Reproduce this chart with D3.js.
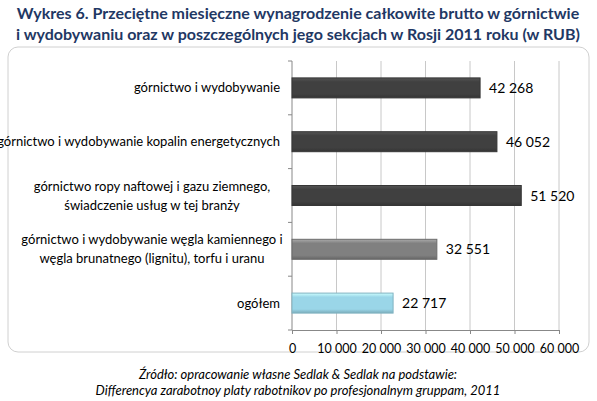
<!DOCTYPE html>
<html><head><meta charset="utf-8">
<script src="https://cdn.jsdelivr.net/npm/d3@7"></script>
<style>body{margin:0;background:#fff}</style></head>
<body><svg id="c" width="597" height="401"></svg>
<script>
const categories = [
  ["górnictwo i wydobywanie"],
  ["górnictwo i wydobywanie kopalin energetycznych"],
  ["górnictwo ropy naftowej i gazu ziemnego,", "świadczenie usług w tej branży"],
  ["górnictwo i wydobywanie węgla kamiennego i", "węgla brunatnego (lignitu), torfu i uranu"],
  ["ogółem"]
];
const values = [42268, 46052, 51520, 32551, 22717];
const barColors = ["#404040", "#404040", "#404040", "#808080", "#9ad6e8"];
const ticks = [0, 10000, 20000, 30000, 40000, 50000, 60000];
const title = ["Wykres 6. Przeciętne miesięczne wynagrodzenie całkowite brutto w górnictwie",
               "i wydobywaniu oraz w poszczególnych jego sekcjach w Rosji 2011 roku (w RUB)"];
const source = ["Źródło: opracowanie własne Sedlak & Sedlak na podstawie:",
                "Differencya zarabotnoy platy rabotnikov po profesjonalnym gruppam, 2011"];

const svg = d3.select("#c");
const fmt = v => d3.format(",")(v).replace(/,/g, " ");
const font = "Lato, sans-serif";

svg.selectAll("text.t").data(title).join("text")
  .attr("x", 298).attr("y", (d,i)=>19+i*21).attr("text-anchor","middle")
  .attr("font-family", font).attr("font-weight","bold").attr("font-size",16)
  .attr("fill","#1f3864").text(d=>d);

svg.append("rect").attr("x",8).attr("y",47).attr("width",581).attr("height",305)
  .attr("rx",10).attr("fill","#fff").attr("stroke","#d0d0d0");

const x = d3.scaleLinear().domain([0,60000]).range([292,559]);
const y = d3.scaleBand().domain(d3.range(values.length)).range([61,330]);

const g = svg.append("g");
g.selectAll("line.grid").data(ticks).join("line")
  .attr("x1",d=>x(d)).attr("x2",d=>x(d)).attr("y1",61).attr("y2",330)
  .attr("stroke",d=>d===0?"#888":"#c8c8c8");

const ax = g.append("g").attr("transform","translate(0,330)")
  .call(d3.axisBottom(x).tickValues(ticks).tickFormat(fmt).tickSize(4));
ax.select(".domain").attr("stroke","#888");
ax.selectAll(".tick line").attr("stroke","#888");
ax.selectAll("text").attr("font-family",font).attr("font-size",12.5).attr("fill","#000").attr("dy","1.3em");

g.selectAll("line.yt").data(d3.range(values.length+1)).join("line")
  .attr("x1",288).attr("x2",292)
  .attr("y1",i=>i<values.length?y(i):330).attr("y2",i=>i<values.length?y(i):330).attr("stroke","#888");

const defs = svg.append("defs");
barColors.forEach((c,i)=>{
  const gr = defs.append("linearGradient").attr("id","g"+i).attr("x1",0).attr("x2",0).attr("y1",0).attr("y2",1);
  gr.append("stop").attr("offset","0").attr("stop-color",d3.color(c).brighter(0.8));
  gr.append("stop").attr("offset","0.2").attr("stop-color",c);
  gr.append("stop").attr("offset","0.8").attr("stop-color",c);
  gr.append("stop").attr("offset","1").attr("stop-color",d3.color(c).darker(0.6));
});
const bh = 20;
g.selectAll("rect.bar").data(values).join("rect")
  .attr("x",x(0)).attr("y",(d,i)=>y(i)+y.bandwidth()/2-bh/2)
  .attr("width",d=>x(d)-x(0)).attr("height",bh)
  .attr("fill",(d,i)=>`url(#g${i})`).attr("stroke",(d,i)=>d3.color(barColors[i]).darker(0.5));

g.selectAll("text.v").data(values).join("text")
  .attr("x",d=>x(d)+9).attr("y",(d,i)=>y(i)+y.bandwidth()/2+5)
  .attr("font-family",font).attr("font-size",14).text(fmt);

categories.forEach((lines,i)=>{
  const t = g.append("text").attr("font-family",font).attr("font-size",13);
  lines.forEach((l,j)=>{
    t.append("tspan")
     .attr("x", lines.length>1 ? 152 : 280)
     .attr("text-anchor", lines.length>1 ? "middle" : "end")
     .attr("y", y(i)+y.bandwidth()/2+4.5 + (j-(lines.length-1)/2)*19).text(l);
  });
});

svg.selectAll("text.s").data(source).join("text")
  .attr("x",298).attr("y",(d,i)=>379+i*16).attr("text-anchor","middle")
  .attr("font-family",font).attr("font-style","italic").attr("font-size",13).text(d=>d);
</script></body></html>
